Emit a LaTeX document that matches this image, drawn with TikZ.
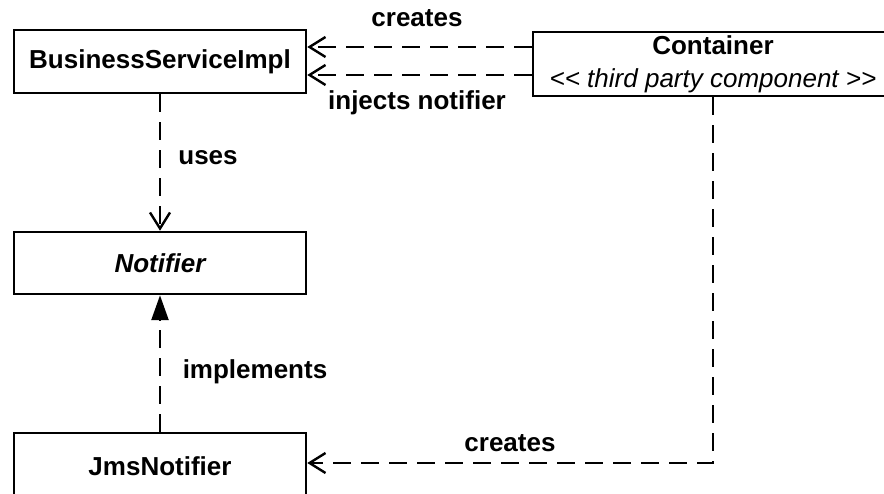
\documentclass[tikz,border=0pt]{standalone}
\usepackage{fontspec}
\setmainfont{Liberation Sans}
\usetikzlibrary{arrows.meta}
\begin{document}
\begin{tikzpicture}[x=1pt,y=-1pt,
  cls/.style={draw,line width=2.5pt,fill=white,minimum width=292pt,inner sep=0pt,
    font=\fontsize{26}{32}\selectfont\bfseries},
  dep/.style={line width=2.6pt,dash pattern=on 18pt off 10pt,
    -{Straight Barb[length=16pt,width=20pt,line width=2.4pt]}},
  real/.style={line width=2.6pt,dash pattern=on 18pt off 10pt,
    -{Triangle[length=25pt,width=17pt]}},
  lbl/.style={font=\fontsize{26}{32}\selectfont\bfseries,inner sep=0pt}]
\useasboundingbox (0,0) rectangle (884,494);
\clip (0,0) rectangle (884,494);
\node[cls,minimum height=63pt] (bsi) at (160,61.5) {BusinessServiceImpl};
\node[cls,minimum width=360pt,minimum height=64pt,align=center] (cont) at (713,64)
  {Container\\[1pt]{\mdseries\itshape <{}< third party component >{}>}};
\node[cls,minimum height=62pt] (notif) at (160,263) {\itshape Notifier};
\node[cls,minimum height=66pt] (jms) at (160,466) {JmsNotifier};
\draw[dep] ([yshift=14.5pt]bsi.east -| cont.west) -- ([yshift=14.5pt]bsi.east);
\draw[dep] ([yshift=-13.5pt]bsi.east -| cont.west) -- ([yshift=-13.5pt]bsi.east);
\node[lbl] (l1) at (417,18) {creates};
\node[lbl] (l2) at (417,103) {injects notifier};
\draw[dep] (bsi.south) -- (notif.north);
\node[lbl] (l3) at (208,158) {uses};
\draw[real] (jms.north) -- (notif.south);
\node[lbl] (l4) at (255,372) {implements};
\coordinate (corner) at (cont.south |- 0,463);
\draw[dep] (cont.south) -- (corner) -- (corner -| jms.east);
\node[lbl] (l5) at (510,443) {creates};
\end{tikzpicture}
\end{document}
